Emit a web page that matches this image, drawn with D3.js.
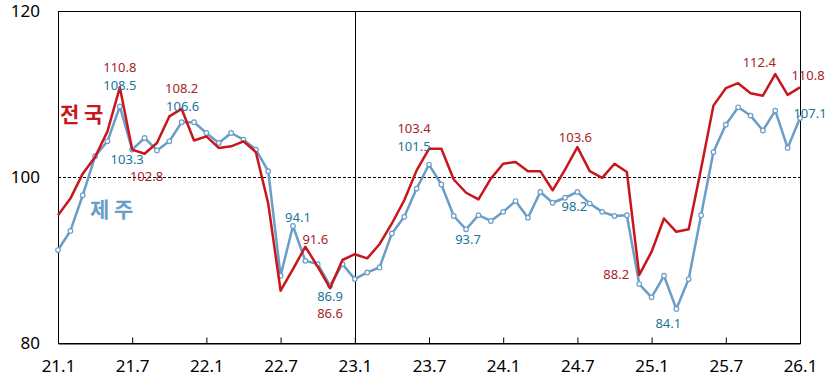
<!DOCTYPE html>
<html>
<head>
<meta charset="utf-8">
<script src="https://cdn.jsdelivr.net/npm/d3@7/dist/d3.min.js"></script>
<style>
  body { margin: 0; background: #fff; }
  svg { display: block; }
  .tick-text { font-family: "Noto Sans", "DejaVu Sans", sans-serif; font-size: 17px; fill: #000; }
  .val { font-family: "Noto Sans", "DejaVu Sans", sans-serif; font-size: 13px; }
  .series-name { font-family: "Noto Sans CJK KR", sans-serif; font-size: 21px; font-weight: bold; }
</style>
</head>
<body>
<svg id="chart" width="830" height="380"></svg>
<script>
// months 21.1 .. 26.1
var months = [];
for (var yy = 21; yy <= 26; yy++) {
  for (var mm = 1; mm <= 12; mm++) {
    months.push(yy + '.' + mm);
    if (yy === 26) break;
  }
}

var xTickLabels = ['21.1','21.7','22.1','22.7','23.1','23.7','24.1','24.7','25.1','25.7','26.1'];
var yTickValues = [80, 100, 120];

// 전국
var nationValues = [
  95.4, 97.4, 100.4, 102.4, 105.5, 110.8, 103.3, 102.8, 104.1, 107.3, 108.2, 104.4,
  104.9, 103.5, 103.7, 104.3, 103.0, 96.8, 86.3, 88.9, 91.6, 89.2, 86.6, 90.0,
  90.7, 90.2, 91.9, 94.4, 97.2, 100.8, 103.4, 103.4, 99.7, 98.1, 97.3, 99.8,
  101.6, 101.8, 100.7, 100.7, 98.4, 100.9, 103.6, 100.7, 99.9, 101.6, 100.6, 88.2,
  91.0, 95.0, 93.4, 93.7, 101.0, 108.6, 110.7, 111.3, 110.1, 109.8, 112.4, 109.9,
  110.8
];

// 제주
var jejuValues = [
  91.2, 93.5, 97.8, 102.5, 104.3, 108.5, 103.3, 104.7, 103.2, 104.3, 106.6, 106.6,
  105.3, 104.1, 105.3, 104.5, 103.3, 100.7, 88.1, 94.1, 89.9, 89.5, 86.9, 89.5,
  87.7, 88.5, 89.1, 93.2, 95.2, 98.6, 101.5, 99.1, 95.3, 93.7, 95.4, 94.7,
  95.8, 97.1, 95.1, 98.2, 96.9, 97.5, 98.2, 96.8, 95.8, 95.3, 95.4, 87.1,
  85.5, 88.1, 84.1, 87.7, 95.4, 103.0, 106.3, 108.4, 107.4, 105.6, 108.0, 103.5,
  107.1
];

// labelled points (month index)
var nationLabelIdx = [5, 7, 10, 20, 22, 30, 42, 47, 58, 60];
var jejuLabelIdx = [5, 6, 10, 19, 22, 30, 33, 42, 50, 60];

// label offsets from the point (dx, dy of text centre)
var nationLabelOffset = {5:[0,-20], 7:[2,23], 10:[0,-20], 20:[10,-7], 22:[0,25], 30:[-15,-20], 42:[-2,-10], 47:[-23,0], 58:[-16,-12], 60:[8,-12]};
var jejuLabelOffset = {5:[0,-21], 6:[-5,10], 10:[1,-16], 19:[5,-9], 22:[0,11], 30:[-15,-18], 33:[2,10], 42:[-3,15], 50:[-8,14], 60:[10,-5]};

var svg = d3.select('#chart');
var plotL = 58, plotR = 800, plotT = 11, plotB = 343;

var x = d3.scalePoint().domain(months).range([plotL, plotR]);
var y = d3.scaleLinear().domain([80, 120]).range([plotB, plotT]);

var nationColor = '#c8161d', nationText = '#a8232a';
var jejuColor = '#6a9dc8', jejuText = '#21759c';

// frame
svg.append('rect')
  .attr('x', plotL + 0.5).attr('y', plotT + 0.5)
  .attr('width', plotR - plotL).attr('height', plotB - plotT)
  .attr('fill', 'none').attr('stroke', '#000').attr('stroke-width', 1);

// 100 dashed line
svg.append('line')
  .attr('x1', plotL).attr('x2', plotR)
  .attr('y1', Math.round(y(100)) + 0.5).attr('y2', Math.round(y(100)) + 0.5)
  .attr('stroke', '#000').attr('stroke-width', 1).attr('stroke-dasharray', '3,2');

// 23.1 divider
svg.append('line')
  .attr('x1', Math.round(x('23.1')) + 0.5).attr('x2', Math.round(x('23.1')) + 0.5)
  .attr('y1', plotT).attr('y2', plotB)
  .attr('stroke', '#000').attr('stroke-width', 1);

// x axis: inward ticks + labels
var xAxis = d3.axisBottom(x).tickValues(xTickLabels).tickSize(-6).tickPadding(16);
var gx = svg.append('g').attr('transform', 'translate(0,' + (plotB + 0.5) + ')').call(xAxis);
gx.select('.domain').attr('stroke', '#000');
gx.selectAll('.tick line').attr('stroke', '#000');
gx.selectAll('.tick text').attr('class', 'tick-text').attr('dy', '0.71em');

// y axis labels only
var yAxis = d3.axisLeft(y).tickValues(yTickValues).tickSize(0).tickPadding(18);
var gy = svg.append('g').attr('transform', 'translate(' + plotL + ',0)').call(yAxis);
gy.select('.domain').remove();
gy.selectAll('.tick text').attr('class', 'tick-text');

var line = d3.line()
  .x(function(d, i){ return x(months[i]); })
  .y(function(d){ return y(d); });

svg.append('path').datum(jejuValues)
  .attr('d', line).attr('fill', 'none')
  .attr('stroke', jejuColor).attr('stroke-width', 2.5).attr('stroke-linejoin', 'round');

svg.selectAll('.jeju-dot').data(jejuValues).enter().append('circle')
  .attr('class', 'jeju-dot')
  .attr('cx', function(d, i){ return x(months[i]); })
  .attr('cy', function(d){ return y(d); })
  .attr('r', 2.3)
  .attr('fill', '#fff').attr('stroke', jejuColor).attr('stroke-width', 1.2);

svg.append('path').datum(nationValues)
  .attr('d', line).attr('fill', 'none')
  .attr('stroke', nationColor).attr('stroke-width', 2.5).attr('stroke-linejoin', 'round');

function addLabels(idxs, values, offsets, color){
  idxs.forEach(function(i){
    var o = offsets[i];
    svg.append('text')
      .attr('class', 'val')
      .attr('x', x(months[i]) + o[0])
      .attr('y', y(values[i]) + o[1])
      .attr('dy', '0.35em')
      .attr('text-anchor', 'middle')
      .attr('fill', color)
      .text(values[i].toFixed(1));
  });
}
addLabels(nationLabelIdx, nationValues, nationLabelOffset, nationText);
addLabels(jejuLabelIdx, jejuValues, jejuLabelOffset, jejuText);

// series names
svg.append('text').attr('class', 'series-name')
  .attr('x', 60).attr('y', 115).attr('dy', '0.35em')
  .attr('fill', nationColor).text('전 국');
svg.append('text').attr('class', 'series-name')
  .attr('x', 90).attr('y', 210).attr('dy', '0.35em')
  .attr('fill', jejuColor).text('제 주');
</script>
</body>
</html>
